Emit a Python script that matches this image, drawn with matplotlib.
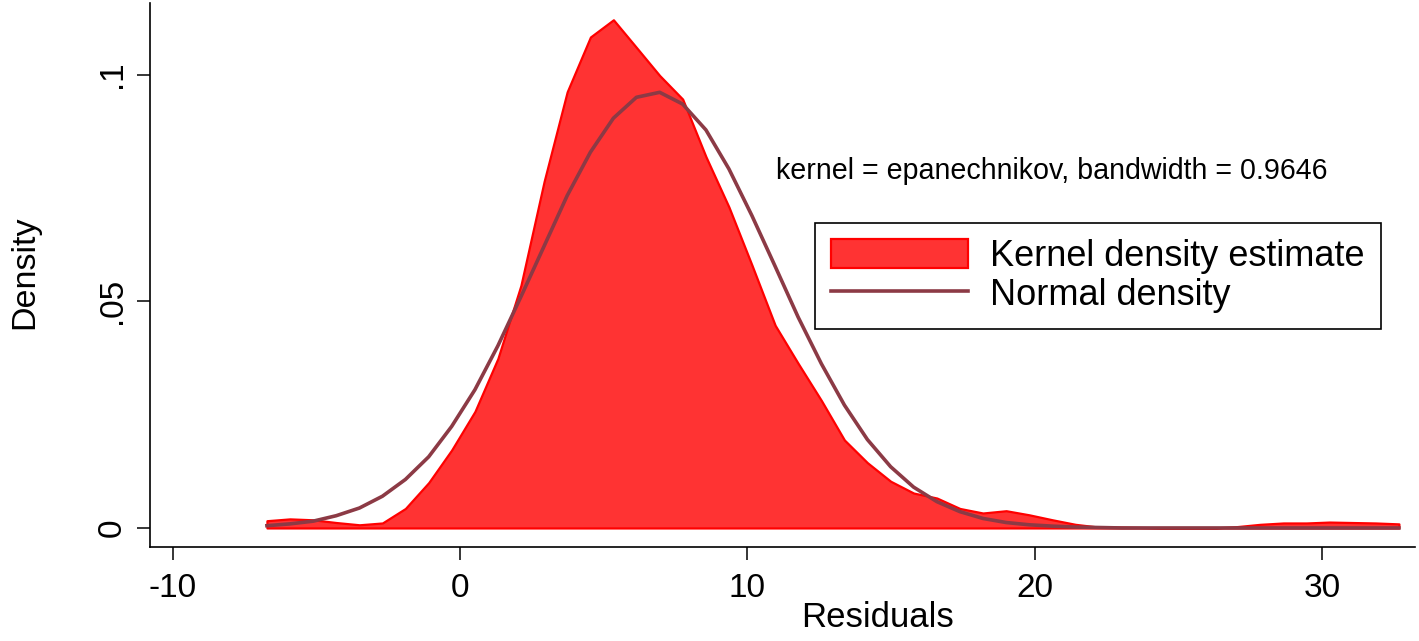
import numpy as np
import matplotlib
matplotlib.use("Agg")
import matplotlib.pyplot as plt

plt.rcParams['font.family'] = ['Liberation Sans', 'DejaVu Sans']

# evaluation grid of the kernel density (50 points)
grid_x = [-6.72, -5.92, -5.11, -4.31, -3.50, -2.70, -1.90, -1.09, -0.29, 0.52,
          1.32, 2.12, 2.93, 3.73, 4.54, 5.34, 6.14, 6.95, 7.75, 8.56,
          9.36, 10.16, 10.97, 11.77, 12.58, 13.38, 14.18, 14.99, 15.79, 16.60,
          17.40, 18.20, 19.01, 19.81, 20.62, 21.42, 22.22, 23.03, 23.83, 24.64,
          25.44, 26.24, 27.05, 27.85, 28.66, 29.46, 30.26, 31.07, 31.87, 32.68]

# kernel density estimate (epanechnikov, bw 0.9646)
kde_y = [0.0016, 0.0020, 0.0018, 0.0012, 0.0007, 0.0011, 0.0043, 0.0100, 0.0172, 0.0257,
         0.0374, 0.0535, 0.0765, 0.0962, 0.1083, 0.1121, 0.1060, 0.0998, 0.0946, 0.0819,
         0.0708, 0.0580, 0.0447, 0.0363, 0.0281, 0.0194, 0.0144, 0.0103, 0.0077, 0.0066,
         0.0043, 0.0033, 0.0038, 0.0029, 0.0018, 0.0008, 0.0002, 0.0002, 0.0001, 0.0000,
         0.0000, 0.0000, 0.0003, 0.0008, 0.0011, 0.0011, 0.0013, 0.0012, 0.0011, 0.0009]

# normal density overlay
normal_y = [0.0005, 0.0009, 0.0015, 0.0027, 0.0044, 0.0070, 0.0107, 0.0157, 0.0224, 0.0305,
            0.0402, 0.0510, 0.0622, 0.0733, 0.0829, 0.0904, 0.0950, 0.0961, 0.0935, 0.0878,
            0.0792, 0.0689, 0.0577, 0.0465, 0.0362, 0.0271, 0.0195, 0.0135, 0.0090, 0.0058,
            0.0036, 0.0021, 0.0012, 0.0007, 0.0004, 0.0002, 0.0001, 0.0000, 0.0000, 0.0000,
            0.0000, 0.0000, 0.0000, 0.0000, 0.0000, 0.0000, 0.0000, 0.0000, 0.0000, 0.0000]

xticks = [-10, 0, 10, 20, 30]
xtick_labels = ['-10', '0', '10', '20', '30']
yticks = [0, 0.05, 0.1]
ytick_labels = ['0', '.05', '.1']

W, H = 1419, 641
fig = plt.figure(figsize=(W/100, H/100), dpi=100)
ax = fig.add_axes([150/W, 1-547/H, (1415-150)/W, (547-3)/H])

ax.fill_between(grid_x, kde_y, 0, facecolor='#FF3333', edgecolor='#FF0000',
                linewidth=1.6, label='Kernel density estimate', zorder=2)
ax.plot(grid_x, normal_y, color='#8C3A45', lw=2.6, label='Normal density', zorder=3)

ax.set_xlim(-10.79, 33.24)
ax.set_ylim(-0.0042, 0.1158)

for s in ['top', 'right']:
    ax.spines[s].set_visible(False)
for s in ['left', 'bottom']:
    ax.spines[s].set_linewidth(1.2)

ax.set_xticks(xticks)
ax.set_xticklabels(xtick_labels)
ax.set_yticks(yticks)
ax.set_yticklabels(ytick_labels, rotation=90, va='center')
ax.tick_params(axis='both', direction='out', length=9.5, width=1.1, labelsize=24)
ax.tick_params(axis='x', pad=9)
ax.tick_params(axis='y', pad=6.5)

ax.set_xlabel('Residuals', fontsize=25)
ax.xaxis.set_label_coords((877-150)/1265, -(601-547)/544)
ax.set_ylabel('Density', fontsize=24.5)
ax.yaxis.set_label_coords((40-150)/1265, (547-272)/544)

fig.text(776/W, 1-179/H, 'kernel = epanechnikov, bandwidth = 0.9646',
         fontsize=20.6, ha='left', va='baseline')

leg = ax.legend(loc='upper left', bbox_to_anchor=(815/W, 1-223/H),
                bbox_transform=fig.transFigure, borderaxespad=0, fontsize=26,
                frameon=True, fancybox=False, edgecolor='black', framealpha=1,
                handlelength=3.8, handleheight=0.85, handletextpad=0.6,
                borderpad=0.45, labelspacing=0.1)
leg.get_frame().set_linewidth(1.2)

fig.savefig('out.png', dpi=100)
